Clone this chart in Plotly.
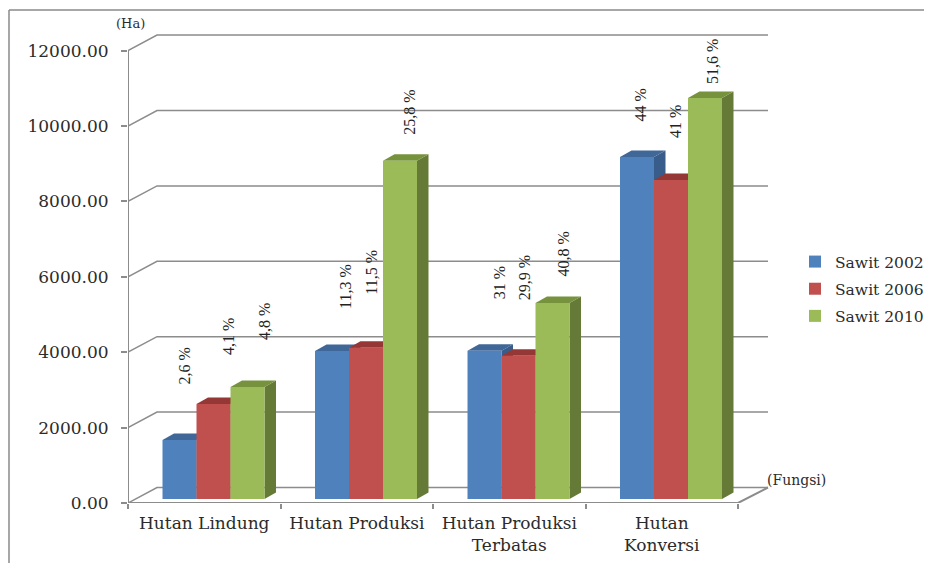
import plotly.graph_objects as go

categories = ["Hutan Lindung", "Hutan Produksi", "Hutan Produksi<br>Terbatas", "Hutan<br>Konversi"]
series_names = ["Sawit 2002", "Sawit 2006", "Sawit 2010"]
sawit_2002 = [1565, 3926, 3934, 9072]
sawit_2006 = [2520, 4013, 3801, 8462]
sawit_2010 = [2970, 8973, 5199, 10637]
share_2002 = ["2,6 %", "11,3 %", "31 %", "44 %"]
share_2006 = ["4,1 %", "11,5 %", "29,9 %", "41 %"]
share_2010 = ["4,8 %", "25,8 %", "40,8 %", "51,6 %"]
y_ticks = [0, 2000, 4000, 6000, 8000, 10000, 12000]

# label placement (pixels relative to the bar's front-top centre)
label_dx = [[4.5, 14, 14.5, 3], [15, 6, 5.5, 4.5], [17, 10, 10.5, 7.5]]
label_lift = [[73.5, 64, 67.5, 51.5], [67.5, 75, 77.5, 58.5], [65.5, 48, 48.5, 36.5]]

front_cols = ["#4F81BD", "#C0504D", "#9BBB59"]
side_cols = ["#385D8A", "#8F3D3A", "#667A38"]
top_cols = ["#3F6797", "#953735", "#76923C"]
GRID = "#8C8C8C"
TXT = "#2b2b2b"
SERIF = "DejaVu Serif, serif"

# geometry (page pixels; the page body has an 8px margin)
OFF = 8
W, H = 932, 563
PL, PR, PT, PB = 128, 772, 20, 503      # plot area in page pixels
CAT_PX = 152.5                           # pixels per category
VAL_PX = 37.7 / 1000                     # pixels per unit value
px_x = lambda p: p / CAT_PX
px_y = lambda p: p / VAL_PX
paper_x = lambda p: (p - PL) / (PR - PL)
paper_y = lambda p: (PB - p) / (PB - PT)

BAR_W = px_x(34)
BAR_START = px_x(34.5)
BASE = px_y(4)
BAR_DX, BAR_DY = px_x(11.5), px_y(6.5)
WALL_DX, WALL_DY = px_x(29), px_y(15.5)
N = len(categories)

fig = go.Figure()

# back wall gridlines with their diagonals, floor edge, axes
gx, gy = [], []
for v in y_ticks:
    gx += [0, WALL_DX, N + px_x(30), None]
    gy += [v, v + WALL_DY, v + WALL_DY, None]
fig.add_trace(go.Scatter(x=gx, y=gy, mode="lines", line=dict(color=GRID, width=1.5),
                         showlegend=False, hoverinfo="skip", zorder=0))
fig.add_trace(go.Scatter(x=[0, 0, None, 0, N, N + px_x(30)],
                         y=[0, 12000, None, 0, 0, WALL_DY],
                         mode="lines", line=dict(color=GRID, width=2),
                         showlegend=False, hoverinfo="skip", zorder=1))

all_values = [sawit_2002, sawit_2006, sawit_2010]
z = 2
for s, (name, vals) in enumerate(zip(series_names, all_values)):
    xs = [i + BAR_START + BAR_W * (s + 0.5) for i in range(N)]
    for xc, v in zip(xs, vals):
        l, r = xc - BAR_W / 2, xc + BAR_W / 2
        top = BASE + v
        # side face
        fig.add_trace(go.Scatter(
            x=[r, r + BAR_DX, r + BAR_DX, r, r],
            y=[BASE, BASE + BAR_DY, top + BAR_DY, top, BASE],
            mode="lines", fill="toself", fillcolor=side_cols[s], line=dict(width=0),
            showlegend=False, hoverinfo="skip", zorder=z))
        # top face
        fig.add_trace(go.Scatter(
            x=[l, l + BAR_DX, r + BAR_DX, r, l],
            y=[top, top + BAR_DY, top + BAR_DY, top, top],
            mode="lines", fill="toself", fillcolor=top_cols[s], line=dict(width=0),
            showlegend=False, hoverinfo="skip", zorder=z))
    fig.add_trace(go.Bar(x=xs, y=vals, base=BASE, width=BAR_W, name=name,
                         marker=dict(color=front_cols[s], line=dict(width=0)),
                         legendgroup=name, zorder=z + 1))
    z += 2

shares = [share_2002, share_2006, share_2010]
annotations = []
for s in range(3):
    for i in range(N):
        xc = i + BAR_START + BAR_W * (s + 0.5)
        annotations.append(dict(
            x=xc + px_x(label_dx[s][i]),
            y=BASE + all_values[s][i] + px_y(label_lift[s][i]),
            text=shares[s][i], textangle=-90, showarrow=False,
            xanchor="center", yanchor="middle",
            font=dict(family="Liberation Serif, serif", size=16, color="#222")))

annotations.append(dict(xref="paper", yref="paper", x=paper_x(130), y=paper_y(23),
                        text="(Ha)", showarrow=False, xanchor="center", yanchor="middle",
                        font=dict(family=SERIF, size=13, color=TXT)))
annotations.append(dict(xref="paper", yref="paper", x=paper_x(796.5), y=paper_y(480),
                        text="(Fungsi)", showarrow=False, xanchor="center", yanchor="middle",
                        font=dict(family=SERIF, size=14, color=TXT)))

shapes = [
    dict(type="line", xref="paper", yref="paper", x0=paper_x(9), x1=paper_x(9),
         y0=paper_y(10), y1=paper_y(563), line=dict(color="#8A8A8A", width=1.5)),
    dict(type="line", xref="paper", yref="paper", x0=paper_x(9), x1=paper_x(932),
         y0=paper_y(10), y1=paper_y(10), line=dict(color="#8A8A8A", width=1.5)),
]

fig.update_layout(
    width=W - OFF, height=H - OFF,
    margin=dict(l=PL - OFF, r=W - PR, t=PT - OFF, b=H - PB, pad=0, autoexpand=False),
    paper_bgcolor="white", plot_bgcolor="white",
    barmode="overlay", font=dict(family=SERIF, color=TXT),
    annotations=annotations, shapes=shapes,
    showlegend=True,
    legend=dict(x=paper_x(795), y=paper_y(245), xanchor="left", yanchor="top",
                font=dict(family=SERIF, size=15.5, color=TXT),
                traceorder="grouped", tracegroupgap=4, itemwidth=30,
                bgcolor="rgba(0,0,0,0)"),
    xaxis=dict(range=[0, (PR - PL) / CAT_PX], tickmode="array",
               tickvals=[i + 0.5 for i in range(N)], ticktext=categories,
               ticks="", showgrid=False, zeroline=False, showline=False,
               tickfont=dict(family=SERIF, size=17, color=TXT), ticklabelstandoff=8,
               minor=dict(tickmode="array", tickvals=list(range(N + 1)), ticks="outside",
                          ticklen=5, tickcolor=GRID, tickwidth=1.5, showgrid=False)),
    yaxis=dict(range=[0, (PB - PT) / VAL_PX], tickmode="array", tickvals=y_ticks,
               ticktext=[f"{v:.2f}" for v in y_ticks], ticks="outside", ticklen=6,
               tickcolor=GRID, tickwidth=1.5, showgrid=False, zeroline=False, showline=False,
               tickfont=dict(family=SERIF, size=17, color=TXT), ticklabelstandoff=9),
)

fig.write_html("out.html")
